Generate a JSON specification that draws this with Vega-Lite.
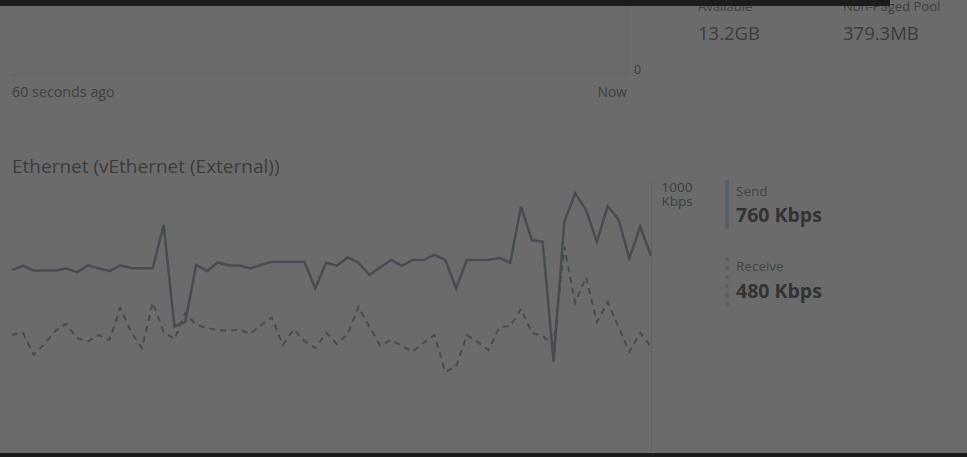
{
  "$schema": "https://vega.github.io/schema/vega-lite/v6.json",
  "width": 639,
  "height": 272,
  "autosize": {"type": "none"},
  "padding": {"left": 12, "top": 180, "right": 316, "bottom": 5},
  "background": "#6b6b6b",
  "config": {"view": {"stroke": null}, "text": {"font": "Open Sans", "color": "#3d3d3d"}},
  "datasets": {
    "net": [
      {"t":0,"s":"Send","v":669},{"t":1,"s":"Send","v":685},{"t":2,"s":"Send","v":667},{"t":3,"s":"Send","v":667},{"t":4,"s":"Send","v":667},{"t":5,"s":"Send","v":675},{"t":6,"s":"Send","v":661},{"t":7,"s":"Send","v":686},{"t":8,"s":"Send","v":675},{"t":9,"s":"Send","v":665},
      {"t":10,"s":"Send","v":686},{"t":11,"s":"Send","v":676},{"t":12,"s":"Send","v":676},{"t":13,"s":"Send","v":676},{"t":14,"s":"Send","v":835},{"t":15,"s":"Send","v":461},{"t":16,"s":"Send","v":479},{"t":17,"s":"Send","v":688},{"t":18,"s":"Send","v":665},{"t":19,"s":"Send","v":697},
      {"t":20,"s":"Send","v":686},{"t":21,"s":"Send","v":686},{"t":22,"s":"Send","v":675},{"t":23,"s":"Send","v":688},{"t":24,"s":"Send","v":699},{"t":25,"s":"Send","v":699},{"t":26,"s":"Send","v":699},{"t":27,"s":"Send","v":699},{"t":28,"s":"Send","v":602},{"t":29,"s":"Send","v":696},
      {"t":30,"s":"Send","v":685},{"t":31,"s":"Send","v":716},{"t":32,"s":"Send","v":696},{"t":33,"s":"Send","v":651},{"t":34,"s":"Send","v":679},{"t":35,"s":"Send","v":706},{"t":36,"s":"Send","v":685},{"t":37,"s":"Send","v":706},{"t":38,"s":"Send","v":706},{"t":39,"s":"Send","v":725},
      {"t":40,"s":"Send","v":706},{"t":41,"s":"Send","v":602},{"t":42,"s":"Send","v":706},{"t":43,"s":"Send","v":706},{"t":44,"s":"Send","v":706},{"t":45,"s":"Send","v":714},{"t":46,"s":"Send","v":696},{"t":47,"s":"Send","v":902},{"t":48,"s":"Send","v":779},{"t":49,"s":"Send","v":773},
      {"t":50,"s":"Send","v":332},{"t":51,"s":"Send","v":847},{"t":52,"s":"Send","v":951},{"t":53,"s":"Send","v":890},{"t":54,"s":"Send","v":773},{"t":55,"s":"Send","v":904},{"t":56,"s":"Send","v":855},{"t":57,"s":"Send","v":712},{"t":58,"s":"Send","v":828},{"t":59,"s":"Send","v":721},
      {"t":0,"s":"Receive","v":430},{"t":1,"s":"Receive","v":439},{"t":2,"s":"Receive","v":357},{"t":3,"s":"Receive","v":397},{"t":4,"s":"Receive","v":445},{"t":5,"s":"Receive","v":471},{"t":6,"s":"Receive","v":419},{"t":7,"s":"Receive","v":406},{"t":8,"s":"Receive","v":430},{"t":9,"s":"Receive","v":412},
      {"t":10,"s":"Receive","v":529},{"t":11,"s":"Receive","v":441},{"t":12,"s":"Receive","v":382},{"t":13,"s":"Receive","v":549},{"t":14,"s":"Receive","v":442},{"t":15,"s":"Receive","v":415},{"t":16,"s":"Receive","v":511},{"t":17,"s":"Receive","v":467},{"t":18,"s":"Receive","v":456},{"t":19,"s":"Receive","v":449},
      {"t":20,"s":"Receive","v":446},{"t":21,"s":"Receive","v":449},{"t":22,"s":"Receive","v":434},{"t":23,"s":"Receive","v":467},{"t":24,"s":"Receive","v":495},{"t":25,"s":"Receive","v":393},{"t":26,"s":"Receive","v":451},{"t":27,"s":"Receive","v":408},{"t":28,"s":"Receive","v":382},{"t":29,"s":"Receive","v":438},
      {"t":30,"s":"Receive","v":397},{"t":31,"s":"Receive","v":434},{"t":32,"s":"Receive","v":534},{"t":33,"s":"Receive","v":460},{"t":34,"s":"Receive","v":391},{"t":35,"s":"Receive","v":412},{"t":36,"s":"Receive","v":390},{"t":37,"s":"Receive","v":369},{"t":38,"s":"Receive","v":401},{"t":39,"s":"Receive","v":430},
      {"t":40,"s":"Receive","v":294},{"t":41,"s":"Receive","v":314},{"t":42,"s":"Receive","v":430},{"t":43,"s":"Receive","v":404},{"t":44,"s":"Receive","v":375},{"t":45,"s":"Receive","v":460},{"t":46,"s":"Receive","v":463},{"t":47,"s":"Receive","v":526},{"t":48,"s":"Receive","v":438},{"t":49,"s":"Receive","v":426},
      {"t":50,"s":"Receive","v":393},{"t":51,"s":"Receive","v":754},{"t":52,"s":"Receive","v":548},{"t":53,"s":"Receive","v":643},{"t":54,"s":"Receive","v":478},{"t":55,"s":"Receive","v":551},{"t":56,"s":"Receive","v":460},{"t":57,"s":"Receive","v":368},{"t":58,"s":"Receive","v":438},{"t":59,"s":"Receive","v":386}
    ]
  },
  "layer": [
    {
      "data": {"name": "net"},
      "mark": {"type": "line", "color": "#474c52", "clip": false},
      "encoding": {
        "x": {"field": "t", "type": "quantitative", "scale": {"domain": [0, 59], "nice": false, "zero": false}, "axis": null},
        "y": {"field": "v", "type": "quantitative", "scale": {"domain": [0, 1000], "nice": false},
          "axis": {"orient": "right", "values": [1000], "labelExpr": "['1000', 'Kbps']", "title": null, "grid": false, "ticks": false,
            "domain": true, "domainColor": "#626262", "domainWidth": 1, "labelPadding": 10, "labelBaseline": "top", "labelAlign": "left",
            "labelFont": "Open Sans", "labelFontSize": 13.5, "labelLineHeight": 14.5, "labelColor": "#3e3e3e", "labelFlush": false, "labelOverlap": false, "labelBound": false}},
        "detail": {"field": "s"},
        "strokeDash": {"field": "s", "type": "nominal", "scale": {"domain": ["Send", "Receive"], "range": [[1, 0], [6, 5]]}, "legend": null},
        "strokeWidth": {"field": "s", "type": "nominal", "scale": {"domain": ["Send", "Receive"], "range": [2.5, 2]}, "legend": null}
      }
    },
    {"data": {"values": [{}]}, "mark": {"type": "text", "text": "Ethernet (vEthernet (External))", "fontSize": 19, "align": "left", "baseline": "alphabetic", "color": "#3c3c3c"}, "encoding": {"x": {"value": 0}, "y": {"value": -7}}},
    {"data": {"values": [{}]}, "mark": {"type": "rule", "color": "#646464", "strokeWidth": 1}, "encoding": {"x": {"value": 0}, "x2": {"value": 615}, "y": {"value": -105}}},
    {"data": {"values": [{}]}, "mark": {"type": "rule", "color": "#646464", "strokeWidth": 1}, "encoding": {"x": {"value": 615}, "y": {"value": -180}, "y2": {"value": -105}}},
    {"data": {"values": [{}]}, "mark": {"type": "text", "text": "0", "fontSize": 12.5, "align": "left", "baseline": "alphabetic", "color": "#404040"}, "encoding": {"x": {"value": 622}, "y": {"value": -106}}},
    {"data": {"values": [{}]}, "mark": {"type": "text", "text": "60 seconds ago", "fontSize": 14.3, "align": "left", "baseline": "alphabetic", "color": "#404040"}, "encoding": {"x": {"value": 0}, "y": {"value": -83}}},
    {"data": {"values": [{}]}, "mark": {"type": "text", "text": "Now", "fontSize": 13.8, "align": "right", "baseline": "alphabetic", "color": "#404040"}, "encoding": {"x": {"value": 615}, "y": {"value": -83}}},
    {"data": {"values": [{}]}, "mark": {"type": "text", "text": "Available", "fontSize": 13, "align": "left", "baseline": "alphabetic", "color": "#404040"}, "encoding": {"x": {"value": 686}, "y": {"value": -169}}},
    {"data": {"values": [{}]}, "mark": {"type": "text", "text": "Non-Paged Pool", "fontSize": 13, "align": "left", "baseline": "alphabetic", "color": "#404040"}, "encoding": {"x": {"value": 831}, "y": {"value": -169}}},
    {"data": {"values": [{}]}, "mark": {"type": "text", "text": "13.2GB", "fontSize": 18.5, "align": "left", "baseline": "alphabetic", "color": "#3c3c3c"}, "encoding": {"x": {"value": 686}, "y": {"value": -140}}},
    {"data": {"values": [{}]}, "mark": {"type": "text", "text": "379.3MB", "fontSize": 18.5, "align": "left", "baseline": "alphabetic", "color": "#3c3c3c"}, "encoding": {"x": {"value": 831}, "y": {"value": -140}}},
    {"data": {"values": [{}]}, "mark": {"type": "rect", "color": "#595f66"}, "encoding": {"x": {"value": 713}, "x2": {"value": 717}, "y": {"value": 0}, "y2": {"value": 49}}},
    {"data": {"values": [{}]}, "mark": {"type": "rule", "color": "#595f66", "strokeWidth": 4, "strokeCap": "round", "strokeDash": [0.5, 8.5]}, "encoding": {"x": {"value": 715}, "y": {"value": 79}, "y2": {"value": 126}}},
    {"data": {"values": [{}]}, "mark": {"type": "text", "text": "Send", "fontSize": 13.5, "align": "left", "baseline": "alphabetic", "color": "#434343"}, "encoding": {"x": {"value": 724}, "y": {"value": 16}}},
    {"data": {"values": [{}]}, "mark": {"type": "text", "text": "760 Kbps", "fontSize": 19.5, "fontWeight": "bold", "align": "left", "baseline": "alphabetic", "color": "#333333"}, "encoding": {"x": {"value": 724}, "y": {"value": 42}}},
    {"data": {"values": [{}]}, "mark": {"type": "text", "text": "Receive", "fontSize": 13.5, "align": "left", "baseline": "alphabetic", "color": "#434343"}, "encoding": {"x": {"value": 724}, "y": {"value": 91}}},
    {"data": {"values": [{}]}, "mark": {"type": "text", "text": "480 Kbps", "fontSize": 19.5, "fontWeight": "bold", "align": "left", "baseline": "alphabetic", "color": "#333333"}, "encoding": {"x": {"value": 724}, "y": {"value": 118}}},
    {"data": {"values": [{}]}, "mark": {"type": "rect", "color": "#1c1c1c"}, "encoding": {"x": {"value": -12}, "x2": {"value": 878}, "y": {"value": -180}, "y2": {"value": -174}}},
    {"data": {"values": [{}]}, "mark": {"type": "rect", "color": "#1c1c1c"}, "encoding": {"x": {"value": -12}, "x2": {"value": 955}, "y": {"value": 273}, "y2": {"value": 277}}}
  ]
}
